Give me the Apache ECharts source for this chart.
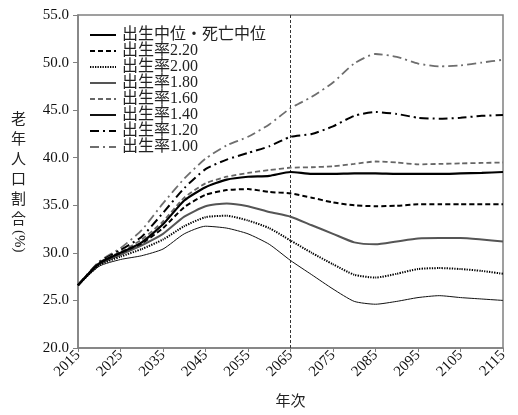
<!DOCTYPE html>
<html>
<head>
<meta charset="utf-8">
<script src="https://cdn.jsdelivr.net/npm/echarts@6/dist/echarts.min.js"></script>
<style>
html,body{margin:0;padding:0;background:#fff;}
#main{width:518px;height:415px;}
</style>
</head>
<body>
<div id="main"></div>
<script>
var years = [2015,2020,2025,2030,2035,2040,2045,2050,2055,2060,2065,2070,2075,2080,2085,2090,2095,2100,2105,2110,2115];
var yTicks = [20,25,30,35,40,45,50,55];
// 出生中位・死亡中位
var medium = [26.6,28.9,30.0,31.1,33.0,35.5,36.9,37.7,38.0,38.1,38.5,38.3,38.3,38.35,38.35,38.3,38.3,38.3,38.35,38.4,38.5];
var r220 = [26.6,28.9,30.0,31.0,32.6,34.8,36.1,36.6,36.7,36.4,36.25,35.8,35.3,35.0,34.9,34.95,35.1,35.1,35.1,35.1,35.1];
var r200 = [26.6,28.7,29.6,30.4,31.4,32.8,33.75,33.9,33.4,32.6,31.3,30.0,28.8,27.7,27.4,27.8,28.3,28.4,28.3,28.1,27.8];
var r180 = [26.6,28.8,29.8,30.8,32.0,33.8,34.9,35.2,34.9,34.3,33.8,32.9,32.0,31.1,30.9,31.2,31.5,31.55,31.55,31.4,31.2];
var r160 = [26.6,29.0,30.1,31.4,33.3,35.8,37.3,38.0,38.4,38.7,38.95,39.0,39.1,39.35,39.6,39.5,39.3,39.35,39.4,39.45,39.5];
var r140 = [26.6,28.6,29.3,29.7,30.4,32.0,32.8,32.6,32.0,30.9,29.2,27.7,26.2,24.9,24.6,24.9,25.3,25.5,25.3,25.15,25.0];
var r120 = [26.6,29.0,30.3,31.7,34.2,36.8,38.8,39.8,40.5,41.2,42.2,42.5,43.3,44.4,44.8,44.6,44.2,44.1,44.2,44.4,44.5];
var r100 = [26.6,29.1,30.5,32.4,35.2,37.8,39.9,41.3,42.2,43.5,45.2,46.4,47.9,49.9,50.9,50.6,49.9,49.6,49.7,50.0,50.3];
var names = ['出生中位・死亡中位','出生率2.20','出生率2.00','出生率1.80','出生率1.60','出生率1.40','出生率1.20','出生率1.00'];
var markYear = 2065;

var serifFont = '"Liberation Serif","Noto Sans CJK JP",serif';

function pairs(arr){
	var out = [];
	for(var i=0;i<years.length;i++){
		out.push([years[i], arr[i]]);
	}
	return out;
}

var styles = [
	{color:'#000000', width:2.2, type:'solid'},
	{color:'#000000', width:2, type:[5,3]},
	{color:'#000000', width:2, type:[1.3,1.2]},
	{color:'#555555', width:2, type:'solid'},
	{color:'#666666', width:1.8, type:[5,3]},
	{color:'#111111', width:1, type:'solid'},
	{color:'#000000', width:2, type:[9,4,2,4]},
	{color:'#6e6e6e', width:1.8, type:[9,4,2,4]}
];
var datas = [medium, r220, r200, r180, r160, r140, r120, r100];

var series = [];
for(var i=0;i<datas.length;i++){
	var s = {
		name: names[i],
		type: 'line',
		data: pairs(datas[i]),
		symbol: 'none',
		showSymbol: false,
		smooth: 0.2,
		lineStyle: styles[i],
		itemStyle: {color: styles[i].color},
		z: 10 - i
	};
	if(i == 0){
		s.markLine = {
			silent: true,
			symbol: 'none',
			label: {show:false},
			lineStyle: {color:'#333333', width:1, type:[3,2]},
			data: [{xAxis: markYear}]
		};
	}
	series.push(s);
}

var chart = echarts.init(document.getElementById('main'));
chart.setOption({
	animation: false,
	backgroundColor: '#ffffff',
	grid: {
		left: 78,
		right: 15,
		top: 15,
		bottom: 63,
		show: true,
		borderColor: '#808080',
		borderWidth: 1.5
	},
	legend: {
		orient: 'vertical',
		left: 84,
		top: 22,
		itemWidth: 26,
		itemHeight: 12,
		itemGap: 0,
		data: names,
		itemStyle: {opacity: 0},
		textStyle: {
			fontFamily: serifFont,
			fontSize: 16,
			color: '#222222',
			padding: [0,0,0,1],
			lineHeight: 16
		}
	},
	xAxis: {
		type: 'value',
		min: 2015,
		max: 2115,
		interval: 10,
		name: '年次',
		nameLocation: 'middle',
		nameGap: 47,
		nameTextStyle: {fontFamily: serifFont, fontSize: 15, color:'#222222'},
		axisLine: {lineStyle: {color:'#808080', width:1.5}},
		axisTick: {length: 4, lineStyle: {color:'#808080'}},
		splitLine: {show:false},
		axisLabel: {
			rotate: 45,
			fontFamily: serifFont,
			fontSize: 15,
			color: '#111111',
			margin: 5,
			formatter: function(v){ return String(v); }
		}
	},
	yAxis: {
		type: 'value',
		min: 20,
		max: 55,
		interval: 5,
		axisLine: {show:true, lineStyle: {color:'#808080', width:1.5}},
		axisTick: {show:true, length: 5, lineStyle: {color:'#808080'}},
		splitLine: {show:false},
		axisLabel: {
			fontFamily: serifFont,
			fontSize: 15,
			color: '#111111',
			margin: 9,
			formatter: function(v){ return v.toFixed(1); }
		}
	},
	graphic: [
		{
			type: 'text',
			left: 11,
			top: 108,
			style: {
				text: '老\n年\n人\n口\n割\n合',
				font: '15px "Noto Sans CJK JP"',
				lineHeight: 20,
				fill: '#222222'
			}
		},
		{
			type: 'text',
			x: 26,
			y: 230,
			rotation: -Math.PI/2,
			style: {
				text: '(%)',
				font: '15px "Liberation Serif"',
				fill: '#222222'
			}
		}
	],
	series: series
});
</script>
</body>
</html>
